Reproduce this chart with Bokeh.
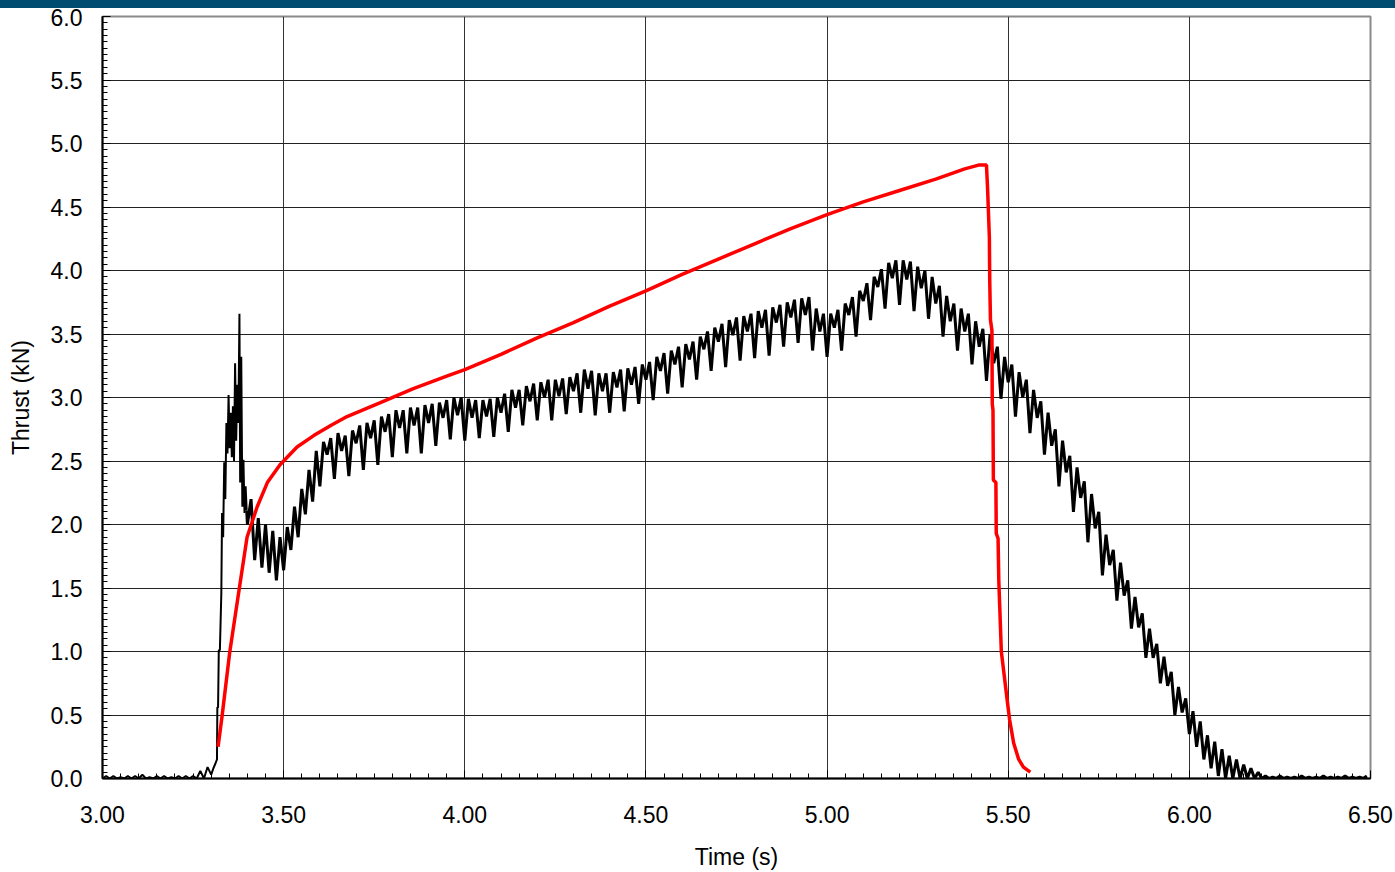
import numpy as np
from bokeh.plotting import figure
from bokeh.models import Range1d, FixedTicker, NumeralTickFormatter, Div
from bokeh.layouts import column
from bokeh.embed import file_html
from bokeh.resources import INLINE

# ---------------- data ----------------
# Measured thrust (black): baseline before ignition, 3.00 .. 3.28 s, step 0.02 (low = 0)
pre_start, pre_step = 3.00, 0.02
pre_hi = [0.02, 0.02, 0.01, 0.02, 0.02, 0.03, 0.01, 0.02, 0.02, 0.01,
          0.02, 0.02, 0.02, 0.06, 0.09]

# ignition transient (explicit points)
ign_t = [3.300, 3.306, 3.312, 3.316, 3.317, 3.319, 3.321, 3.324, 3.328, 3.330,
         3.333, 3.336, 3.339, 3.342, 3.345, 3.348, 3.351, 3.354, 3.357, 3.360,
         3.363, 3.366, 3.369, 3.372, 3.375, 3.378, 3.380, 3.383, 3.386, 3.389,
         3.392, 3.395, 3.398]
ign_v = [0.03, 0.08, 0.12, 0.15, 0.56, 0.56, 1.01, 1.01, 1.46, 2.09,
         1.90, 2.49, 2.20, 2.80, 2.56, 3.02, 2.60, 2.88, 2.53, 2.93,
         2.50, 3.27, 2.66, 3.10, 2.80, 3.66, 2.33, 3.32, 2.14, 2.51,
         2.09, 2.30, 2.11]

# oscillating burn: low at t, high at t+0.01 ; t from 3.40 step 0.02
osc_start, osc_step = 3.40, 0.02
black_lo = [2.00, 1.72, 1.66, 1.62, 1.56, 1.64, 1.80, 1.90, 2.08, 2.18,
            2.30, 2.55, 2.36, 2.58, 2.38, 2.64, 2.43, 2.68, 2.47, 2.73,
            2.53, 2.76, 2.56, 2.78, 2.56, 2.80, 2.62, 2.84, 2.67, 2.86,
            2.66, 2.84, 2.68, 2.85, 2.69, 2.88, 2.73, 2.92, 2.78, 2.97,
            2.82, 3.00, 2.82, 3.01, 2.87, 3.05, 2.88, 3.07, 2.86, 3.05,
            2.88, 3.08, 2.89, 3.10, 2.95, 3.14, 2.98, 3.21, 3.03, 3.26,
            3.08, 3.30, 3.14, 3.38, 3.21, 3.44, 3.24, 3.49, 3.29, 3.52,
            3.31, 3.55, 3.33, 3.59, 3.40, 3.63, 3.43, 3.65, 3.37, 3.52,
            3.32, 3.55, 3.37, 3.65, 3.48, 3.76, 3.61, 3.87, 3.70, 3.94,
            3.73, 3.93, 3.68, 3.86, 3.62, 3.74, 3.48, 3.60, 3.37, 3.52,
            3.26, 3.40, 3.13, 3.27, 2.99, 3.12, 2.85, 3.00, 2.72, 2.84,
            2.55, 2.62, 2.30, 2.41, 2.10, 2.21, 1.86, 1.97, 1.60, 1.68,
            1.40, 1.44, 1.18, 1.19, 0.95, 0.95, 0.75, 0.73, 0.50, 0.52,
            0.35, 0.25, 0.15, 0.08, 0.02, 0.00, 0.00, 0.00, 0.00, 0.00,
            0.00, 0.00, 0.00, 0.00, 0.00, 0.00, 0.00, 0.00, 0.00, 0.00,
            0.00, 0.00, 0.00, 0.00, 0.00]
black_hi = [2.20, 2.05, 2.00, 1.95, 1.90, 1.98, 2.14, 2.28, 2.43, 2.58,
            2.65, 2.68, 2.72, 2.70, 2.74, 2.78, 2.80, 2.82, 2.85, 2.87,
            2.90, 2.90, 2.92, 2.92, 2.94, 2.95, 2.96, 2.98, 3.00, 3.00,
            2.99, 2.98, 2.98, 2.99, 3.00, 3.03, 3.06, 3.06, 3.09, 3.11,
            3.12, 3.14, 3.14, 3.15, 3.16, 3.19, 3.22, 3.21, 3.19, 3.19,
            3.20, 3.22, 3.23, 3.24, 3.26, 3.28, 3.32, 3.35, 3.37, 3.40,
            3.42, 3.44, 3.48, 3.52, 3.55, 3.58, 3.61, 3.63, 3.64, 3.66,
            3.68, 3.69, 3.71, 3.73, 3.75, 3.77, 3.78, 3.79, 3.70, 3.66,
            3.66, 3.69, 3.74, 3.79, 3.84, 3.90, 3.95, 4.01, 4.06, 4.08,
            4.08, 4.07, 4.03, 4.00, 3.95, 3.88, 3.80, 3.74, 3.70, 3.66,
            3.60, 3.54, 3.50, 3.40, 3.32, 3.26, 3.20, 3.14, 3.06, 2.97,
            2.88, 2.75, 2.66, 2.54, 2.45, 2.34, 2.24, 2.10, 1.92, 1.80,
            1.70, 1.56, 1.43, 1.30, 1.18, 1.06, 0.96, 0.84, 0.72, 0.63,
            0.53, 0.45, 0.34, 0.29, 0.23, 0.18, 0.15, 0.11, 0.08, 0.05,
            0.02, 0.01, 0.02, 0.01, 0.01, 0.02, 0.01, 0.01, 0.02, 0.01,
            0.01, 0.02, 0.01, 0.01, 0.02]

# Predicted thrust (red)
red_t = [3.319, 3.330, 3.351, 3.373, 3.399, 3.427, 3.455, 3.490, 3.537, 3.583,
         3.630, 3.675, 3.767, 3.858, 3.952, 4.000, 4.100, 4.200, 4.300, 4.400,
         4.500, 4.600, 4.700, 4.800, 4.900, 5.000, 5.100, 5.200, 5.300, 5.380,
         5.418, 5.440, 5.443, 5.448, 5.449, 5.451, 5.455, 5.456, 5.458, 5.459,
         5.466, 5.467, 5.472, 5.474, 5.481, 5.497, 5.504, 5.515, 5.529, 5.542,
         5.561]
red_v = [0.25, 0.49, 0.99, 1.41, 1.90, 2.14, 2.33, 2.47, 2.61, 2.70,
         2.78, 2.85, 2.96, 3.07, 3.17, 3.22, 3.34, 3.47, 3.59, 3.72,
         3.84, 3.97, 4.09, 4.21, 4.33, 4.44, 4.54, 4.63, 4.72, 4.80,
         4.83, 4.83, 4.65, 4.26, 3.92, 3.61, 3.53, 2.95, 2.90, 2.35,
         2.33, 1.93, 1.89, 1.56, 1.00, 0.62, 0.46, 0.28, 0.15, 0.09,
         0.05]

x_ticks = [3.0, 3.5, 4.0, 4.5, 5.0, 5.5, 6.0, 6.5]
y_ticks = [0.0, 0.5, 1.0, 1.5, 2.0, 2.5, 3.0, 3.5, 4.0, 4.5, 5.0, 5.5, 6.0]

# ---------------- build black paths ----------------
sx, sy = [], []
for i, h in enumerate(pre_hi):
    t = pre_start + pre_step * i
    sx += [t, t + pre_step / 2]
    sy += [0.0, h]
sx += ign_t
sy += ign_v

ox, oy = [ign_t[-1]], [ign_v[-1]]
for i, (lo, hi) in enumerate(zip(black_lo, black_hi)):
    t = osc_start + osc_step * i
    ox += [t, t + osc_step / 2]
    oy += [lo, hi]

FONT = "Liberation Sans"

p = figure(width=1395, height=864, output_backend="svg", toolbar_location=None,
           x_range=Range1d(3.0, 6.5), y_range=Range1d(0.0, 6.0),
           min_border_left=102, min_border_right=25, min_border_top=8,
           min_border_bottom=93)
p.background_fill_color = "white"
p.border_fill_color = "white"
p.outline_line_color = "#8a8a8a"
p.outline_line_width = 2

p.line(sx, sy, line_color="black", line_width=2.0, line_join="bevel")
p.line(ox, oy, line_color="black", line_width=3.0, line_join="bevel")
p.line(red_t, red_v, line_color="#ff0000", line_width=3.5)

x_minor = [round(3.0 + 0.05 * i, 3) for i in range(71)]
y_minor = [round(0.05 * i, 3) for i in range(121)]
p.xaxis.ticker = FixedTicker(ticks=x_ticks, minor_ticks=x_minor)
p.yaxis.ticker = FixedTicker(ticks=y_ticks, minor_ticks=y_minor)
p.xaxis.formatter = NumeralTickFormatter(format="0.00")
p.yaxis.formatter = NumeralTickFormatter(format="0.0")

for ax in (p.xaxis, p.yaxis):
    ax.axis_line_color = "black"
    ax.axis_line_width = 2
    ax.major_tick_in = 8
    ax.major_tick_out = 0
    ax.minor_tick_in = 5
    ax.minor_tick_out = 0
    ax.major_tick_line_color = "black"
    ax.minor_tick_line_color = "black"
    ax.major_label_text_font = FONT
    ax.major_label_text_font_size = "23px"
    ax.major_label_text_color = "black"
    ax.axis_label_text_font = FONT
    ax.axis_label_text_font_size = "23px"
    ax.axis_label_text_font_style = "normal"
    ax.axis_label_text_color = "black"

p.xaxis.axis_label = "Time (s)"
p.yaxis.axis_label = "Thrust (kN)"
p.xaxis.major_label_standoff = 27
p.xaxis.axis_label_standoff = 18
p.yaxis.major_label_standoff = 20
p.yaxis.axis_label_standoff = 14

p.xgrid.ticker = FixedTicker(ticks=x_ticks)
p.ygrid.ticker = FixedTicker(ticks=y_ticks)
p.xgrid.grid_line_color = "#333333"
p.ygrid.grid_line_color = "#222222"
p.xgrid.grid_line_width = 1
p.ygrid.grid_line_width = 1

bar = Div(text="", width=1395, height=8, margin=0,
          styles={"background-color": "#004b70"})

layout = column(bar, p, spacing=0)
open("out.html", "w").write(file_html(layout, INLINE))
